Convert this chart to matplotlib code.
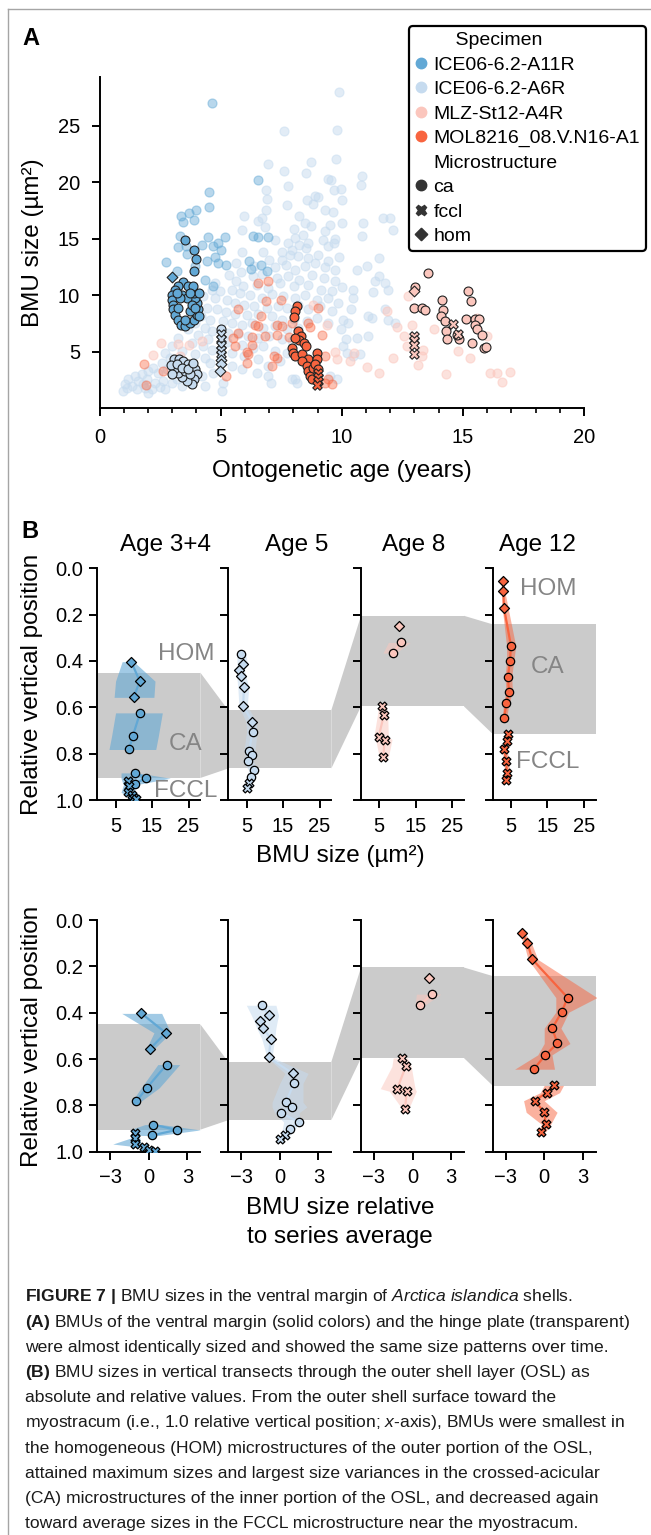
import matplotlib
matplotlib.use("Agg")
import numpy as np
import matplotlib.pyplot as plt
from matplotlib.lines import Line2D
from matplotlib.patches import Polygon
from matplotlib.ticker import MultipleLocator
from matplotlib.transforms import blended_transform_factory

plt.rcParams['font.family'] = ['Liberation Sans', 'DejaVu Sans']
plt.rcParams['mathtext.fontset'] = 'custom'
plt.rcParams['mathtext.rm'] = 'Liberation Sans'
plt.rcParams['mathtext.it'] = 'Liberation Sans:italic'
plt.rcParams['mathtext.bf'] = 'Liberation Sans:bold'

# ---------------------------------------------------------------- data (A)
specimens = ['ICE06-6.2-A11R', 'ICE06-6.2-A6R', 'MLZ-St12-A4R', 'MOL8216_08.V.N16-A1']
microstructures = ['ca', 'fccl', 'hom']

# hinge plate (transparent)
a11_hinge_x = [4.65, 6.54, 4.5, 4.53, 3.99, 3.37, 3.91, 3.33, 4.47, 5.18, 3.22, 3.55, 4.21, 4.69, 4.87, 5.01,
               2.74, 3.62, 4.42, 4.76, 4.9, 6.17, 6.25, 6.9, 3.94, 3.18, 4.69, 4.35, 6.33, 6.55, 6.97, 6.66,
               5.2, 3.45, 3.7]
a11_hinge_y = [27.0, 20.2, 19.16, 17.8, 17.57, 17.04, 16.63, 15.27, 15.15, 15.15, 14.27, 14.33, 14.42, 14.39,
               14.63, 14.04, 12.98, 13.69, 13.01, 13.36, 12.86, 13.01, 12.28, 12.14, 12.57, 12.14, 10.8, 11.38,
               15.27, 15.15, 15.15, 12.7, 12.7, 16.5, 17.3]

a6_hinge_x = [7.63, 9.79, 9.9, 6.94, 7.63, 8.73, 9.75, 8.51, 9.42, 9.55,
              7.79, 6.86, 9.69, 9.97, 6.93, 8.89, 9.0, 8.55, 10.02, 7.75,
              6.86, 8.82, 6.69, 5.98, 8.23, 9.31, 9.62, 6.53, 6.83, 8.48,
              8.04, 8.73, 9.51, 9.99, 5.89, 8.38, 9.31, 8.07, 9.72, 7.24,
              7.76, 8.23, 8.59, 9.24, 9.69, 5.87, 6.73, 7.52, 7.93, 8.51,
              9.44, 6.99, 7.54, 7.86, 8.2, 8.62, 9.0, 9.42, 9.9, 5.63,
              6.39, 7.24, 7.68, 8.07, 8.48, 8.89, 9.31, 9.72, 5.36, 5.84,
              6.35, 6.72, 7.31, 7.79, 8.23, 8.76, 9.28, 9.72, 4.76, 5.62,
              5.93, 6.49, 6.97, 7.45, 8.04, 8.62, 9.14, 9.6, 9.99, 4.63,
              4.97, 5.45, 5.8, 6.21, 6.69, 7.1, 7.59, 8.07, 8.48, 8.96,
              9.44, 9.86, 4.28, 4.76, 5.25, 5.59, 5.98, 6.39, 6.9, 7.35,
              7.72, 8.2, 8.62, 9.1, 9.58, 4.42, 4.83, 5.2, 5.59, 6.07,
              6.55, 7.1, 7.52, 8.04, 8.55, 8.96, 9.44, 4.19, 4.56, 5.11,
              5.45, 5.87, 6.28, 6.76, 7.24, 7.73, 8.2, 3.94, 4.35, 4.65,
              5.29, 5.7, 6.11, 6.55, 6.99, 7.52, 7.93, 3.66, 4.08, 4.49,
              5.25, 5.87, 6.35, 6.76, 7.24, 7.72, 3.25, 3.8, 4.28, 4.65,
              5.45, 5.98, 6.55, 6.97, 7.45, 2.98, 3.42, 3.94, 4.35, 4.56,
              5.45, 5.87, 6.49, 6.97, 7.93, 8.14, 7.08, 9.51, 9.79, 2.7,
              2.91, 2.56, 2.22, 2.01, 2.42, 2.77, 1.74, 1.46, 1.19, 1.6,
              1.94, 2.29, 2.63, 2.98, 1.05, 1.32, 0.98, 1.12, 1.87, 2.15,
              2.49, 3.18, 3.39, 1.81, 1.53, 2.01, 2.7, 4.21, 4.7, 5.11,
              4.35, 5.04, 8.07,
              10.82, 10.78, 11.69, 10.89, 10.82, 11.55, 10.61, 11.03, 11.37, 11.55,
              11.92, 10.48, 11.28, 11.78, 10.45, 11.1, 11.23, 10.38, 11.89, 11.78,
              10.06, 10.27, 9.97, 10.17, 10.06, 10.61, 11.1, 10.2, 10.75, 10.48,
              11.98, 12.1, 12.2]
a6_hinge_y = [24.49, 24.58, 28.0, 21.63, 21.01, 21.75, 22.07, 20.81, 20.28, 20.22,
              19.63, 19.28, 19.34, 19.4, 18.54, 18.81, 18.66, 18.39, 18.45, 18.01,
              17.51, 18.1, 16.8, 17.04, 17.04, 17.57, 17.33, 16.54, 16.04, 16.39,
              15.86, 16.1, 16.24, 16.39, 15.74, 15.3, 15.66, 15.07, 15.01, 14.86,
              14.62, 14.48, 14.62, 14.86, 14.62, 13.8, 13.83, 13.83, 14.04, 14.18,
              14.33, 13.09, 13.15, 13.59, 13.45, 13.3, 13.59, 13.06, 13.36, 12.86,
              12.62, 12.5, 12.71, 12.27, 12.56, 12.86, 12.5, 12.27, 11.83, 12.03,
              11.68, 11.92, 11.53, 11.68, 11.39, 11.83, 11.53, 11.24, 11.09, 11.24,
              10.8, 10.94, 10.65, 11.09, 10.8, 10.94, 10.5, 10.35, 10.74, 10.5,
              10.35, 10.5, 10.21, 10.06, 9.77, 10.15, 9.91, 9.77, 10.06, 9.62,
              9.77, 9.32, 9.97, 9.77, 9.62, 9.32, 9.18, 9.03, 8.88, 9.09,
              8.88, 9.18, 8.74, 9.03, 8.59, 8.88, 8.74, 8.5, 8.38, 8.29,
              8.38, 8.15, 7.85, 7.91, 7.71, 8.0, 7.56, 8.15, 7.85, 7.71,
              7.56, 7.41, 7.56, 7.12, 7.26, 6.97, 7.12, 7.56, 7.12, 6.82,
              6.67, 6.53, 6.38, 6.23, 6.38, 6.09, 5.94, 6.97, 6.44, 6.09,
              5.85, 5.64, 5.35, 5.5, 5.05, 4.91, 6.23, 5.79, 5.5, 5.2,
              4.91, 4.61, 4.32, 3.73, 4.17, 5.5, 5.05, 4.76, 4.47, 4.02,
              3.73, 3.44, 3.14, 2.85, 2.55, 2.26, 2.26, 2.85, 2.55, 4.91,
              4.47, 4.02, 3.58, 3.29, 3.14, 3.44, 3.0, 2.85, 2.55, 2.41,
              2.55, 2.26, 2.41, 2.26, 2.11, 1.96, 1.52, 1.82, 1.82, 1.67,
              1.9, 2.55, 1.96, 2.11, 1.67, 1.37, 1.67, 2.85, 3.14, 2.26,
              1.96, 1.52, 2.55,
              20.57, 19.72, 16.83, 16.39, 15.27, 13.3, 12.27, 12.56, 11.24, 11.74,
              10.5, 10.5, 10.27, 11.04, 9.77, 8.15, 8.0, 8.74, 7.85, 8.74,
              7.85, 7.56, 6.97, 6.15, 5.5, 6.23, 6.38, 4.91, 4.76, 4.61,
              16.8, 15.8, 7.5]

mlz_hinge_x = [12.27, 12.89, 12.68, 12.13, 13.3, 13.16, 11.03, 11.55, 14.3, 14.81, 15.29, 16.12, 16.39, 16.95,
               16.6, 13.82, 13.37, 11.85, 12.57, 10.5, 10.34, 15.98, 15.53, 12.73, 15.6, 2.53, 3.25, 3.7, 2.22,
               4.24, 3.32, 8.8, 9.4, 9.8, 9.7]
mlz_hinge_y = [7.2, 7.41, 5.55, 4.47, 4.61, 3.79, 3.67, 3.08, 3.0, 5.05, 4.47, 3.08, 3.08, 3.2, 2.32, 6.97, 5.2,
               8.59, 6.38, 4.91, 4.17, 6.38, 7.85, 9.9, 8.0, 5.79, 5.73, 5.58, 4.67, 5.91, 4.61, 9.1, 7.4, 4.4, 5.0]

mol_hinge_x = [6.55, 6.94, 6.86, 5.73, 6.66, 6.42, 6.55, 7.31, 7.52, 6.83, 6.28, 5.59, 6.28, 5.7, 7.31, 7.83,
               7.93, 8.69, 8.62, 9.03, 5.21, 6.07, 6.14, 7.1, 7.31, 1.85, 1.9, 2.63, 9.31, 9.31, 9.58, 9.44, 6.1,
               7.2, 5.5, 7.5, 9.2]
mol_hinge_y = [11.09, 11.24, 9.47, 8.79, 8.15, 7.41, 7.26, 7.41, 7.26, 6.38, 6.32, 5.5, 5.56, 6.67, 6.44, 6.32,
               7.56, 7.2, 7.56, 8.88, 2.9, 4.02, 4.76, 3.73, 4.47, 3.88, 2.02, 3.29, 4.61, 2.26, 2.11, 2.55, 5.0,
               4.6, 6.2, 9.6, 6.5]

# ventral margin (solid), per microstructure
a11_ca_x = [3.53, 3.89, 3.98, 3.91, 3.46, 3.25, 3.11, 3.0, 2.97, 3.02, 3.04, 3.11, 3.22, 3.36, 3.53, 3.73, 3.91,
            4.01, 4.05, 4.01, 3.94, 3.91, 3.8, 3.66, 3.87, 4.1, 4.1, 3.42, 3.59, 3.32, 3.25, 3.73, 3.8, 3.53, 3.18,
            3.94, 3.73]
a11_ca_y = [14.86, 13.98, 13.21, 12.12, 11.15, 10.8, 10.5, 10.06, 9.62, 9.18, 8.74, 8.29, 7.85, 7.41, 7.32, 7.56,
            7.85, 8.29, 8.74, 9.32, 9.77, 10.21, 10.56, 10.86, 10.8, 10.21, 8.15, 10.06, 9.77, 9.77, 8.88, 8.59,
            9.18, 7.85, 10.21, 8.88, 10.21]
a11_hom_x = [2.98]
a11_hom_y = [11.59]

a6_ca_x = [3.09, 3.28, 3.46, 3.64, 3.8, 3.94, 4.01, 3.91, 3.8, 3.6, 3.42, 3.25, 3.09, 2.95, 3.18, 3.53, 3.73,
           3.39, 3.66, 3.0, 3.87, 5.0]
a6_ca_y = [4.32, 4.38, 4.17, 3.96, 3.73, 3.44, 3.0, 2.55, 2.11, 2.41, 2.79, 3.14, 3.44, 3.79, 3.88, 3.29, 3.0,
           3.58, 3.5, 3.0, 4.02, 7.0]
a6_fccl_x = [5.0, 5.0, 5.0, 5.0, 5.0]
a6_fccl_y = [6.53, 6.09, 5.64, 5.2, 4.76]
a6_hom_x = [5.0, 5.0, 4.98]
a6_hom_y = [4.26, 3.88, 3.29]

mlz_ca_x = [13.57, 13.02, 12.98, 13.30, 13.44, 15.23, 15.32, 14.15, 14.19, 14.08, 14.28, 15.12, 15.5, 15.68,
            15.5, 15.57, 15.78, 14.30, 14.36, 14.85, 14.74, 15.39, 15.89, 15.94]
mlz_ca_y = [11.97, 10.74, 8.88, 8.88, 8.68, 10.41, 9.47, 9.56, 8.65, 8.15, 7.71, 7.91, 7.91, 7.91, 7.41, 6.97,
            6.44, 6.82, 6.15, 6.09, 6.44, 5.79, 5.35, 5.44]
mlz_fccl_x = [12.98, 12.98, 12.98, 12.98, 14.58, 14.81]
mlz_fccl_y = [6.38, 6.03, 5.64, 4.76, 7.47, 6.53]
mlz_hom_x = [12.99]
mlz_hom_y = [10.35]

mol_ca_x = [8.14, 8.07, 8.04, 8.2, 8.32, 8.23, 8.45, 7.93, 8.0, 8.07, 8.37, 8.62, 8.34, 8.55, 8.62, 8.69, 8.82,
            8.96, 8.96, 8.89, 9.0, 8.76, 8.07, 8.51]
mol_ca_y = [9.09, 8.59, 8.09, 6.82, 6.38, 6.03, 5.79, 5.35, 4.91, 4.61, 4.76, 4.32, 4.17, 3.73, 3.29, 2.9, 3.58,
            4.91, 4.32, 3.88, 3.44, 2.55, 6.23, 5.5]
mol_fccl_x = [9.0, 9.0, 9.0, 8.97]
mol_fccl_y = [3.14, 2.79, 2.41, 2.02]

# ---------------------------------------------------------------- data (B)
ages = ['Age 3+4', 'Age 5', 'Age 8', 'Age 12']
ca_top = [0.45, 0.613, 0.205, 0.242]
ca_bottom = [0.905, 0.864, 0.596, 0.715]

age34_seg = [0, 0, 0, 1, 1, 1, 2, 2, 2, 3, 3, 3, 3, 3, 3]
age34_micro = ['hom', 'hom', 'hom', 'ca', 'ca', 'ca', 'ca', 'ca', 'ca', 'fccl', 'fccl', 'fccl', 'fccl', 'fccl', 'fccl']
age34_pos = [0.403, 0.487, 0.557, 0.624, 0.725, 0.782, 0.883, 0.906, 0.930, 0.920, 0.941, 0.967, 0.980, 0.992, 0.996]
age34_size = [9.3, 11.6, 10.0, 11.7, 9.7, 8.7, 10.4, 13.3, 10.2, 8.5, 8.6, 8.5, 9.4, 10.0, 10.6]
age34_size_lo = [6.8, 5.0, 4.6, 5.0, 3.9, 3.2, 6.5, 6.5, 7.0, 7.5, 7.0, 6.5, 8.0, 8.5, 9.0]
age34_size_hi = [10.0, 15.8, 15.5, 17.8, 16.7, 16.0, 11.0, 20.0, 12.0, 9.5, 10.0, 10.5, 11.0, 11.5, 12.0]
age34_rel = [-0.57, 1.31, 0.08, 1.38, -0.16, -0.96, 0.34, 2.17, 0.21, -1.09, -1.04, -1.09, -0.39, 0.03, 0.47]
age34_rel_lo = [-2.1, 0.4, -0.2, 0.7, -0.6, -1.3, -0.3, -1.5, -0.6, -1.4, -1.4, -2.8, -0.8, -0.3, 0.2]
age34_rel_hi = [1.0, 1.7, 0.4, 2.4, 0.8, -0.6, 1.0, 4.0, 0.8, -0.8, -0.7, -0.6, 0.0, 0.4, 0.8]

age5_seg = [0, 0, 0, 0, 0, 0, 0, 0, 0, 0, 0, 0, 0, 0, 0]
age5_micro = ['ca', 'hom', 'hom', 'hom', 'hom', 'hom', 'hom', 'ca', 'ca', 'ca', 'ca', 'ca', 'ca', 'fccl', 'fccl']
age5_pos = [0.368, 0.412, 0.437, 0.466, 0.513, 0.593, 0.662, 0.705, 0.787, 0.807, 0.832, 0.872, 0.901, 0.928, 0.947]
age5_size = [3.45, 4.08, 2.9, 3.37, 4.27, 4.08, 6.54, 6.63, 5.72, 6.44, 5.27, 7.08, 6.27, 5.7, 5.2]
age5_size_lo = [2.3, 2.4, 2.2, 2.3, 2.6, 2.9, 4.8, 5.0, 4.3, 4.6, 4.0, 5.6, 5.0, 4.6, 4.3]
age5_size_hi = [4.8, 5.2, 4.4, 4.8, 5.6, 5.2, 7.6, 7.9, 7.3, 7.8, 6.8, 8.2, 7.4, 6.6, 6.0]
age5_rel = [-1.38, -0.86, -1.51, -1.30, -0.70, -0.86, 0.99, 1.10, 0.47, 0.96, 0.08, 1.49, 0.78, 0.44, 0.0]
age5_rel_lo = [-2.6, -2.2, -2.0, -1.8, -1.4, -1.0, 0.4, 0.0, -0.6, -0.6, -0.4, 0.3, 0.2, 0.1, -0.2]
age5_rel_hi = [-0.3, -0.1, -0.2, -0.3, -0.4, -0.6, 2.2, 1.8, 1.8, 2.1, 1.5, 1.6, 1.2, 0.8, 0.3]

age8_seg = [0, 1, 1, 2, 2, 2, 2, 2]
age8_micro = ['hom', 'ca', 'ca', 'fccl', 'fccl', 'fccl', 'fccl', 'fccl']
age8_pos = [0.250, 0.320, 0.366, 0.595, 0.632, 0.728, 0.739, 0.815]
age8_size = [10.45, 10.9, 8.8, 5.74, 6.28, 4.83, 6.46, 6.1]
age8_size_lo = [10.45, 7.5, 6.0, 4.8, 4.5, 3.5, 4.0, 5.0]
age8_size_hi = [10.45, 13.5, 9.5, 7.0, 7.3, 7.5, 8.5, 7.5]
age8_rel = [1.26, 1.5, 0.6, -0.79, -0.53, -1.18, -0.45, -0.58]
age8_rel_lo = [1.26, 0.3, 0.2, -1.5, -1.6, -2.5, -1.8, -0.8]
age8_rel_hi = [1.26, 2.2, 1.0, -0.4, -0.1, 0.2, 0.3, -0.3]

age12_seg = [0, 0, 0, 0, 0, 0, 0, 0, 0, 1, 1, 1, 1, 1, 1]
age12_micro = ['hom', 'hom', 'hom', 'ca', 'ca', 'ca', 'ca', 'ca', 'ca', 'fccl', 'fccl', 'fccl', 'fccl', 'fccl', 'fccl']
age12_pos = [0.056, 0.098, 0.170, 0.335, 0.398, 0.467, 0.533, 0.582, 0.644, 0.714, 0.745, 0.780, 0.830, 0.882, 0.915]
age12_size = [2.74, 2.9, 3.09, 5.0, 4.73, 4.18, 4.45, 3.72, 3.18, 4.2, 3.8, 3.2, 3.7, 3.9, 3.55]
age12_size_lo = [2.4, 2.5, 2.6, 3.8, 3.8, 3.4, 3.6, 3.0, 2.6, 3.6, 3.2, 2.6, 3.0, 3.3, 3.0]
age12_size_hi = [3.1, 3.3, 4.2, 6.3, 5.8, 5.2, 5.4, 4.5, 3.8, 4.8, 4.5, 3.9, 4.4, 4.6, 4.1]
age12_rel = [-1.72, -1.31, -0.92, 1.82, 1.35, 0.63, 1.02, 0.1, -0.81, 0.75, 0.18, -0.73, 0.0, 0.13, -0.27]
age12_rel_lo = [-2.0, -1.6, -1.25, 0.9, 0.9, 0.0, 0.0, -0.5, -2.3, 0.0, -0.3, -1.6, -1.4, -0.2, -0.5]
age12_rel_hi = [-1.5, -1.0, -0.5, 4.1, 1.9, 1.3, 2.0, 0.6, 0.8, 1.5, 1.2, 0.0, 1.0, 0.5, 0.1]

caption_lines = [
    r"$\mathbf{FIGURE\ 7\ |}$ BMU sizes in the ventral margin of $\mathit{Arctica\ islandica}$ shells.",
    r"$\mathbf{(A)}$ BMUs of the ventral margin (solid colors) and the hinge plate (transparent)",
    "were almost identically sized and showed the same size patterns over time.",
    r"$\mathbf{(B)}$ BMU sizes in vertical transects through the outer shell layer (OSL) as",
    "absolute and relative values. From the outer shell surface toward the",
    r"myostracum (i.e., 1.0 relative vertical position; $\mathit{x}$-axis), BMUs were smallest in",
    "the homogeneous (HOM) microstructures of the outer portion of the OSL,",
    "attained maximum sizes and largest size variances in the crossed-acicular",
    "(CA) microstructures of the inner portion of the OSL, and decreased again",
    "toward average sizes in the FCCL microstructure near the myostracum.",
]

# ---------------------------------------------------------------- style
C_A11 = '#62a8d5'
C_A6 = '#c6dbef'
C_MLZ = '#fbc6bd'
C_MOL = '#f8643f'
BAND = '#cbcbcb'
LABEL_GRAY = '#858585'
MARKERS = {'ca': 'o', 'fccl': 'X', 'hom': (4, 0, 0)}
MSIZE = {'ca': 36, 'fccl': 40, 'hom': 52}

W, H = 651, 1535
fig = plt.figure(figsize=(W / 100, H / 100), dpi=100)


def fx(px):
    return px / W


def fy(py):
    return 1 - py / H


def style(ax, lw=1.4):
    for s in ['top', 'right']:
        ax.spines[s].set_visible(False)
    for s in ['left', 'bottom']:
        ax.spines[s].set_linewidth(lw)
    ax.patch.set_alpha(0)


# figure border
fig.add_artist(Line2D([fx(8), fx(8)], [0, fy(9)], transform=fig.transFigure, color='#a5a5a5', lw=1.0))
fig.add_artist(Line2D([fx(8), 1], [fy(9), fy(9)], transform=fig.transFigure, color='#a5a5a5', lw=1.0))

# ---------------------------------------------------------------- panel A
axA = fig.add_axes([fx(99.6), fy(408.3), (584 - 99.6) / W, (408.3 - 77) / H])
style(axA)
axA.set_xlim(0, 20)
axA.set_ylim(0, 29.3)
axA.set_xticks([0, 5, 10, 15, 20])
axA.set_yticks([5, 10, 15, 20, 25])
axA.xaxis.set_minor_locator(MultipleLocator(1))
axA.tick_params(which='major', length=6, width=1.4, labelsize=14.5, pad=8)
axA.tick_params(which='minor', length=3.5, width=1.2)

hinge = [(a6_hinge_x, a6_hinge_y, C_A6, 0.5), (mlz_hinge_x, mlz_hinge_y, C_MLZ, 0.5),
         (mol_hinge_x, mol_hinge_y, C_MOL, 0.4), (a11_hinge_x, a11_hinge_y, C_A11, 0.45)]
for hx, hy, col, al in hinge:
    axA.scatter(hx, hy, s=42, color=col, alpha=al, edgecolors='face', linewidths=0.9, zorder=2)

ventral = [
    (a11_ca_x, a11_ca_y, 'ca', C_A11), (a11_hom_x, a11_hom_y, 'hom', C_A11),
    (a6_ca_x, a6_ca_y, 'ca', C_A6), (a6_fccl_x, a6_fccl_y, 'fccl', C_A6), (a6_hom_x, a6_hom_y, 'hom', C_A6),
    (mlz_ca_x, mlz_ca_y, 'ca', C_MLZ), (mlz_fccl_x, mlz_fccl_y, 'fccl', C_MLZ), (mlz_hom_x, mlz_hom_y, 'hom', C_MLZ),
    (mol_ca_x, mol_ca_y, 'ca', C_MOL), (mol_fccl_x, mol_fccl_y, 'fccl', C_MOL),
]
for vx, vy, m, col in ventral:
    axA.scatter(vx, vy, s=MSIZE[m] * 1.15, marker=MARKERS[m], color=col, edgecolors='#222222',
                linewidths=0.8, zorder=3)

# legend
handles, labels = [], []
handles.append(Line2D([], [], ls='none', marker=None)); labels.append('    Specimen')
for sp, col in zip(specimens, [C_A11, C_A6, C_MLZ, C_MOL]):
    handles.append(Line2D([], [], ls='none', marker='o', ms=7.5, mfc=col, mec=col))
    labels.append(sp)
handles.append(Line2D([], [], ls='none', marker=None)); labels.append('Microstructure')
for m in microstructures:
    handles.append(Line2D([], [], ls='none', marker=MARKERS[m], ms=7.5 if m != 'hom' else 9,
                          mfc='#333333', mec='#333333'))
    labels.append(m)
leg = axA.legend(handles, labels, loc='upper right', bbox_to_anchor=(fx(646), fy(26)),
                 bbox_transform=fig.transFigure, fontsize=14, frameon=True, fancybox=True,
                 handlelength=0.6, handletextpad=0.35, labelspacing=0.35, borderpad=0.3,
                 borderaxespad=0)
leg.get_frame().set_edgecolor('black')
leg.get_frame().set_linewidth(1.6)
leg.get_frame().set_alpha(1)

fig.text(fx(22), fy(45), 'A', fontsize=17, fontweight='bold', ha='left', va='baseline')
fig.text(fx(342), fy(477), 'Ontogenetic age (years)', fontsize=17.5, ha='center', va='baseline')
fig.text(fx(33), fy(242.5), 'BMU size (µm²)', fontsize=17.5, ha='center', va='center', rotation=90)

# ---------------------------------------------------------------- panel B
col_left_px = [97.3, 228.3, 361, 492.7]
ax_w_px = 103
row_top_px = [568.3, 920]
ax_h_px = 231.7
colors_B = [C_A11, C_A6, C_MLZ, C_MOL]
band_alpha = [0.6, 0.55, 0.5, 0.5]

data_B = [
    (age34_seg, age34_micro, age34_pos, age34_size, age34_size_lo, age34_size_hi, age34_rel, age34_rel_lo, age34_rel_hi),
    (age5_seg, age5_micro, age5_pos, age5_size, age5_size_lo, age5_size_hi, age5_rel, age5_rel_lo, age5_rel_hi),
    (age8_seg, age8_micro, age8_pos, age8_size, age8_size_lo, age8_size_hi, age8_rel, age8_rel_lo, age8_rel_hi),
    (age12_seg, age12_micro, age12_pos, age12_size, age12_size_lo, age12_size_hi, age12_rel, age12_rel_lo, age12_rel_hi),
]


def connect(axl, axr, yl, yr):
    tl = blended_transform_factory(axl.transAxes, axl.transData)
    tr = blended_transform_factory(axr.transAxes, axr.transData)
    pts = np.array([tl.transform((1, yl[0])), tr.transform((0, yr[0])),
                    tr.transform((0, yr[1])), tl.transform((1, yl[1]))])
    pts = fig.transFigure.inverted().transform(pts)
    fig.add_artist(Polygon(pts, closed=True, transform=fig.transFigure, facecolor=BAND,
                           edgecolor='none', zorder=-1))


for r in range(2):
    axes_row = []
    for c in range(4):
        ax = fig.add_axes([fx(col_left_px[c]), fy(row_top_px[r] + ax_h_px), ax_w_px / W, ax_h_px / H])
        style(ax)
        axes_row.append(ax)
        ax.set_ylim(1, 0)
        if r == 0:
            ax.set_xlim(0, 28.2)
            ax.set_xticks([5, 15, 25])
        else:
            ax.set_xlim(-4, 4)
            ax.set_xticks([-3, 0, 3])
        ax.set_yticks([0, 0.2, 0.4, 0.6, 0.8, 1.0])
        ax.set_yticklabels(['0.0', '0.2', '0.4', '0.6', '0.8', '1.0'])
        ax.tick_params(axis='both', length=6, width=1.4, labelsize=14.5)
        ax.tick_params(axis='y', pad=4)
        ax.tick_params(axis='x', pad=6)
        if c > 0:
            ax.tick_params(labelleft=False)
        ax.axhspan(ca_top[c], ca_bottom[c], color=BAND, lw=0, zorder=0)

        seg, micro, pos, size, s_lo, s_hi, rel, r_lo, r_hi = data_B[c]
        xv, lo, hi = (size, s_lo, s_hi) if r == 0 else (rel, r_lo, r_hi)
        seg = np.array(seg); pos = np.array(pos); xv = np.array(xv)
        lo = np.array(lo); hi = np.array(hi); micro = np.array(micro)
        col = colors_B[c]
        for sid in np.unique(seg):
            idx = np.where(seg == sid)[0]
            if len(idx) < 2:
                continue
            ax.fill_betweenx(pos[idx], lo[idx], hi[idx], color=col, alpha=band_alpha[c], lw=0, zorder=1)
            ax.plot(xv[idx], pos[idx], color=col, lw=1.6, zorder=2)
        for m in microstructures:
            idx = np.where(micro == m)[0]
            if len(idx):
                ax.scatter(xv[idx], pos[idx], marker=MARKERS[m], s=MSIZE[m], color=col,
                           edgecolors='black', linewidths=0.9, zorder=3)
    for c in range(3):
        connect(axes_row[c], axes_row[c + 1], (ca_top[c], ca_bottom[c]), (ca_top[c + 1], ca_bottom[c + 1]))

# titles & region labels
title_x = [166, 297, 414, 537.5]
for t, xp in zip(ages, title_x):
    fig.text(fx(xp), fy(551), t, fontsize=17.5, ha='center', va='baseline')
for txt, xp, yp in [('HOM', 186, 660), ('CA', 186, 750), ('FCCL', 186, 797),
                    ('HOM', 548, 595), ('CA', 548, 673), ('FCCL', 548, 768)]:
    fig.text(fx(xp), fy(yp), txt, fontsize=17.5, color=LABEL_GRAY, ha='center', va='baseline')

fig.text(fx(21), fy(538), 'B', fontsize=17, fontweight='bold', ha='left', va='baseline')
fig.text(fx(32), fy(684), 'Relative vertical position', fontsize=17.5, ha='center', va='center', rotation=90)
fig.text(fx(32), fy(1036), 'Relative vertical position', fontsize=17.5, ha='center', va='center', rotation=90)
fig.text(fx(340), fy(862), 'BMU size (µm²)', fontsize=17.5, ha='center', va='baseline')
fig.text(fx(340), fy(1214), 'BMU size relative', fontsize=17.5, ha='center', va='baseline')
fig.text(fx(340), fy(1243), 'to series average', fontsize=17.5, ha='center', va='baseline')

# caption
for i, line in enumerate(caption_lines):
    fig.text(fx(25), fy(1301.5 + 25.2 * i), line, fontsize=12.6, ha='left', va='baseline', color='#1a1a1a')

fig.savefig('out.png', dpi=100)
